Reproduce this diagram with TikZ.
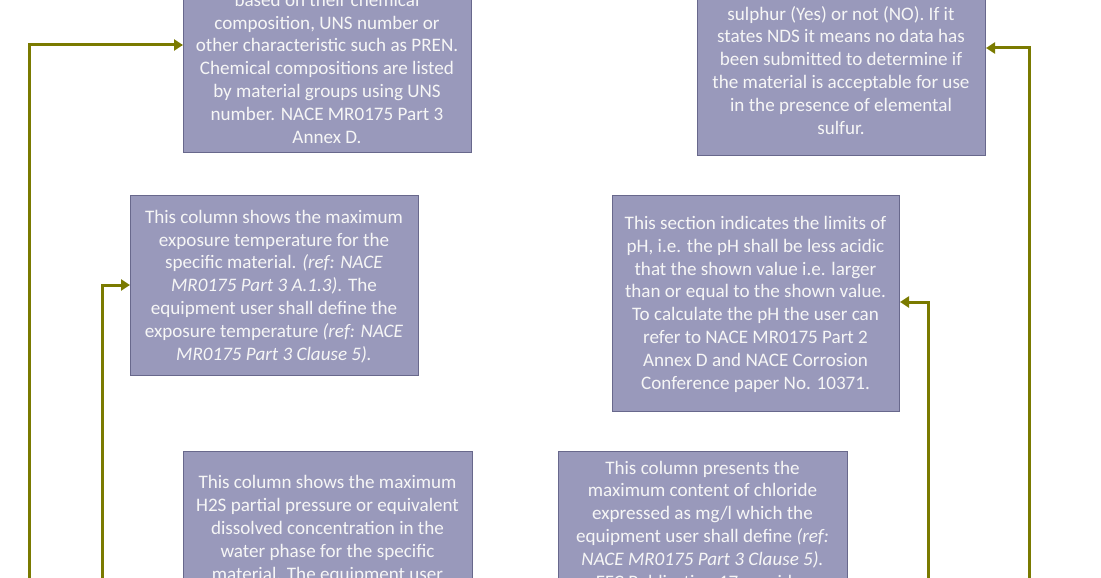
\documentclass[tikz,border=0pt]{standalone}
\usepackage{fontspec}
\setmainfont{Carlito}
\usetikzlibrary{arrows.meta}
\definecolor{boxfill}{RGB}{153,153,187}
\definecolor{boxline}{RGB}{104,104,140}
\definecolor{olive}{RGB}{122,122,0}
\definecolor{txtcol}{RGB}{246,246,246}
\tikzset{
  box/.style={draw=boxline, fill=boxfill, line width=1pt, inner sep=0pt, minimum width=288pt},
  txt/.style={text=txtcol, align=center, inner sep=0pt, font=\fontsize{19.1}{22.8}\selectfont},
  conn/.style={draw=olive, line width=3pt, -{Triangle[length=9pt,width=11pt]}}
}
\begin{document}
\begin{tikzpicture}[x=1pt,y=-1pt]
\useasboundingbox (0,0) rectangle (1101,578);
\clip (0,0) rectangle (1101,578);
% boxes
\node[box, anchor=south west, minimum height=250pt] (b1) at (183,153) {};
\node[box, anchor=south west, minimum height=250pt] (b2) at (697,156) {};
\node[box, anchor=north west, minimum width=288pt, minimum height=180pt] (b3) at (130,195) {};
\node[box, anchor=north west, minimum width=287pt, minimum height=216pt] (b4) at (612,195) {};
\node[box, anchor=north west, minimum width=289pt, minimum height=250pt] (b5) at (183,451) {};
\node[box, anchor=north west, minimum width=289pt, minimum height=250pt] (b6) at (558,451) {};
% texts (anchor=base is the baseline of the last line)
\node[txt, anchor=base] (t1) at (327,143) {based on their chemical\\composition, UNS number or\\other characteristic such as PREN.\\Chemical compositions are listed\\by material groups using UNS\\number. NACE MR0175 Part 3\\Annex D.};
\node[txt, anchor=base] (t2) at (841,134) {sulphur (Yes) or not (NO). If it\\states NDS it means no data has\\been submitted to determine if\\the material is acceptable for use\\in the presence of elemental\\sulfur.};
\node[txt, anchor=base] (t3) at (274,360) {This column shows the maximum\\exposure temperature for the\\specific material. \textit{(ref: NACE}\\\textit{MR0175 Part 3 A.1.3)}. The\\equipment user shall define the\\exposure temperature \textit{(ref: NACE}\\\textit{MR0175 Part 3 Clause 5).}};
\node[txt, anchor=base] (t4) at (755.5,389) {This section indicates the limits of\\pH, i.e. the pH shall be less acidic\\that the shown value i.e. larger\\than or equal to the shown value.\\To calculate the pH the user can\\refer to NACE MR0175 Part 2\\Annex D and NACE Corrosion\\Conference paper No. 10371.};
\node[txt, anchor=base] (t5) at (327.5,580) {This column shows the maximum\\H2S partial pressure or equivalent\\dissolved concentration in the\\water phase for the specific\\material. The equipment user};
\node[txt, anchor=base] (t6) at (702.5,588) {This column presents the\\maximum content of chloride\\expressed as mg/l which the\\equipment user shall define \textit{(ref:}\\\textit{NACE MR0175 Part 3 Clause 5).}\\EFC Publication 17 provides};
% connectors
\coordinate (s1) at (29,600);
\coordinate (s2) at (102,600);
\coordinate (s3) at (1029,600);
\coordinate (s4) at (928,600);
\draw[conn] (s1) |- (b1.west |- 0,45);
\draw[conn] (s2) |- (b3.west |- 0,285);
\draw[conn] (s3) |- (b2.east |- 0,48);
\draw[conn] (s4) |- (b4.east |- 0,302);
\end{tikzpicture}
\end{document}
